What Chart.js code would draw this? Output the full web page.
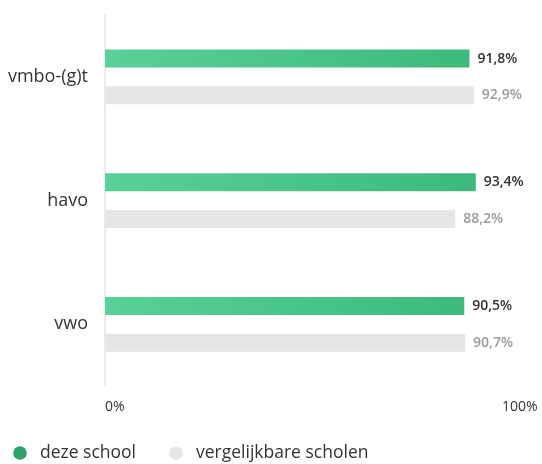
<!DOCTYPE html>
<html>
<head>
<meta charset="utf-8">
<script src="https://cdn.jsdelivr.net/npm/chart.js@4/dist/chart.umd.min.js"></script>
<style>
  html, body { margin: 0; padding: 0; background: #fff; }
  #wrap { width: 542px; height: 464px; }
</style>
</head>
<body>
<div id="wrap"><canvas id="chart" width="542" height="464"></canvas></div>
<script>
// data
const categories = ['vmbo-(g)t', 'havo', 'vwo'];
const schoolValues = [91.8, 93.4, 90.5];
const compareValues = [92.9, 88.2, 90.7];
const seriesNames = ['deze school', 'vergelijkbare scholen'];
const xTicks = [0, 100];

const FONT = "'Open Sans', sans-serif";
const legendColors = ['#2fa26a', '#e6e6e6'];

// green gradient across the bar length
function greenFill(context) {
    const area = context.chart.chartArea;
    if (!area) return '#48c487';
    const g = context.chart.ctx.createLinearGradient(area.left, 0, area.right, 0);
    g.addColorStop(0, '#57d197');
    g.addColorStop(1, '#3cb77a');
    return g;
}

// value labels at the end of each bar
const valueLabels = {
    id: 'valueLabels',
    afterDatasetsDraw(chart) {
        const ctx = chart.ctx;
        ctx.save();
        ctx.font = '600 14px ' + FONT;
        ctx.textBaseline = 'middle';
        ctx.textAlign = 'left';
        chart.data.datasets.forEach((ds, i) => {
            const meta = chart.getDatasetMeta(i);
            ctx.fillStyle = i === 0 ? '#333333' : '#9a9a9a';
            meta.data.forEach((bar, j) => {
                const txt = ds.data[j].toFixed(1).replace('.', ',') + '%';
                ctx.fillText(txt, bar.x + 8, bar.y);
            });
        });
        ctx.restore();
    }
};

// legend at the bottom: dot + name
const bottomLegend = {
    id: 'bottomLegend',
    afterDraw(chart) {
        const ctx = chart.ctx;
        ctx.save();
        ctx.font = '17.5px ' + FONT;
        ctx.textBaseline = 'middle';
        ctx.textAlign = 'left';
        const y = 453;
        let x = 20;
        seriesNames.forEach((name, i) => {
            ctx.beginPath();
            ctx.arc(x, y, 6.8, 0, Math.PI * 2);
            ctx.fillStyle = legendColors[i];
            ctx.fill();
            ctx.fillStyle = '#333';
            ctx.fillText(name, x + 20, y);
            x += 20 + ctx.measureText(name).width + 40;
        });
        ctx.restore();
    }
};

new Chart(document.getElementById('chart'), {
    type: 'bar',
    data: {
        labels: categories,
        datasets: [
            {
                label: seriesNames[0],
                data: schoolValues,
                backgroundColor: greenFill,
                categoryPercentage: 0.593,
                barPercentage: 0.49
            },
            {
                label: seriesNames[1],
                data: compareValues,
                backgroundColor: '#e6e6e6',
                categoryPercentage: 0.593,
                barPercentage: 0.49
            }
        ]
    },
    options: {
        indexAxis: 'y',
        responsive: false,
        animation: false,
        layout: { padding: { top: 15, right: 40, left: 0, bottom: 37 } },
        scales: {
            x: {
                min: 0,
                max: 100,
                afterBuildTicks: (scale) => { scale.ticks = xTicks.map(v => ({ value: v })); },
                afterFit: (scale) => { scale.paddingLeft = 0; scale.paddingRight = 0; },
                grid: { display: false, drawTicks: false },
                border: { display: false },
                ticks: {
                    align: 'start',
                    padding: 12,
                    color: '#333',
                    font: { family: FONT, size: 14 },
                    callback: (v) => v + '%'
                }
            },
            y: {
                grid: { display: false, drawTicks: false },
                border: { display: true, color: '#f1e9ec', width: 2 },
                afterFit: (scale) => { scale.width = 105; scale.paddingTop = 0; scale.paddingBottom = 0; },
                ticks: {
                    padding: 17,
                    color: '#333',
                    font: { family: FONT, size: 18 }
                }
            }
        },
        plugins: {
            legend: { display: false },
            tooltip: { enabled: false }
        }
    },
    plugins: [valueLabels, bottomLegend]
});
</script>
</body>
</html>
